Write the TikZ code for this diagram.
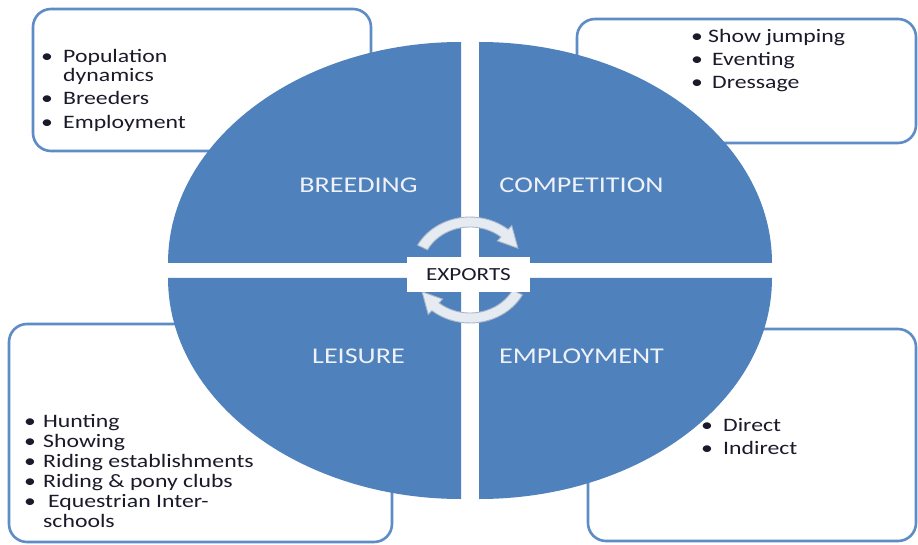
\documentclass[tikz,border=0pt]{standalone}
\usepackage{fontspec}
\setmainfont{Carlito}[FakeStretch=1.25]
\usepackage{tikz}

\definecolor{quadblue}{HTML}{4F81BD}
\definecolor{boxblue}{HTML}{5E8CC6}
\definecolor{labelwhite}{HTML}{EEF1F7}
\definecolor{textdark}{HTML}{1A1A2A}
\definecolor{turnfill}{HTML}{E6EAF1}
\definecolor{turnedge}{HTML}{A9B7CC}

\newcommand{\itm}[1][21pt]{\makebox[#1][l]{\textbullet}}

\tikzset{
  quad/.style={fill=quadblue},
  infobox/.style={draw=boxblue, line width=2.6pt, rounded corners=18pt},
  bullets/.style={anchor=north west, inner sep=0pt, align=left, text=textdark,
                  font=\fontsize{19}{19}\selectfont},
  sector/.style={anchor=base, text=labelwhite, font=\fontsize{22.5}{24}\selectfont},
  turn/.style={fill=turnfill, draw=turnedge, line width=0.9pt},
}

\begin{document}
\begin{tikzpicture}[x=1pt, y=-1pt]
  % Canvas
  \fill[white] (0,0) rectangle (918,545);

  % Boxes
  \draw[infobox] (33,9) rectangle (371,151);
  \draw[infobox] (577,19) rectangle (916,143);
  \draw[infobox] (9,324) rectangle (392,542);
  \draw[infobox] (588,329) rectangle (916,541);

  % Quadrants
  \fill[quad] (461,263) -- (168,263) arc[start angle=180, end angle=90, x radius=293pt, y radius=221pt] -- cycle;
  \fill[quad] (479,263) -- (479,42) arc[start angle=90, end angle=0, x radius=293pt, y radius=221pt] -- cycle;
  \fill[quad] (461,278) -- (168,278) arc[start angle=180, end angle=270, x radius=293pt, y radius=221pt] -- cycle;
  \fill[quad] (479,278) -- (772,278) arc[start angle=0, end angle=-90, x radius=293pt, y radius=221pt] -- cycle;

  % Sector labels
  \node[sector] (breed) at (358.5,193) {BREEDING};
  \node[sector] (comp)  at (581.5,193) {COMPETITION};
  \node[sector] (leis)  at (358.5,363) {LEISURE};
  \node[sector] (empl)  at (581.5,363) {EMPLOYMENT};

  % Turning arrows
  \foreach \ang in {0,180}
    \filldraw[turn, shift={(470,270)}, xscale=1.12, rotate=\ang]
      (152:53pt) arc[start angle=152, end angle=50, radius=53pt]
      -- (50:58pt) -- (27:48pt) -- (50:38pt) -- (50:43pt)
      arc[start angle=50, end angle=152, radius=43pt] -- cycle;

  % Centre
  \node[fill=white, minimum width=123pt, minimum height=35pt, inner sep=0pt,
        text=textdark, font=\fontsize{18.5}{20}\selectfont] (exports) at (468.5,274.5) {EXPORTS};

  % Lists
  \node[bullets] (breedlist) at (41,49)
    {\itm[22pt]Population\\\hspace*{22pt}dynamics\\[4.5pt]\itm[22pt]Breeders\\[4.5pt]\itm[22pt]Employment};
  \node[bullets] (complist) at (691,29)
    {\itm[17pt]Show jumping\\[4pt]\itm Eventing\\[4pt]\itm Dressage};
  \node[bullets, font=\fontsize{19}{20}\selectfont] (leislist) at (24,414)
    {\itm[19pt]Hunting\\\itm[19pt]Showing\\\itm[19pt]Riding establishments\\\itm[19pt]Riding \& pony clubs\\\itm[24pt]Equestrian Inter-\\\hspace*{19pt}schools};
  \node[bullets] (empllist) at (701,418)
    {\itm[22pt]Direct\\[4pt]\itm[22pt]Indirect};
\end{tikzpicture}
\end{document}
